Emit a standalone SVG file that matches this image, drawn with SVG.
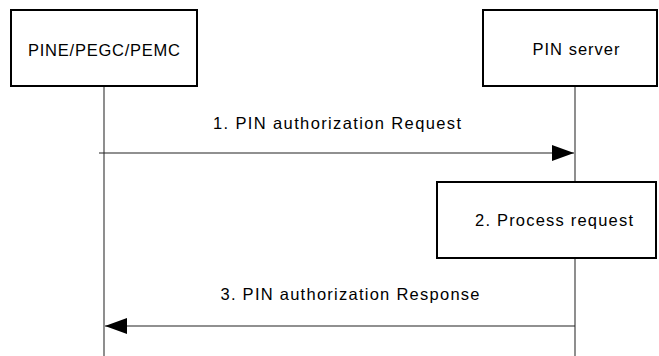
<svg xmlns="http://www.w3.org/2000/svg" width="659" height="356" viewBox="0 0 659 356">
<defs>
<style>
.box{fill:#fff;stroke:#000;stroke-width:2}
.life{stroke:#444;stroke-width:1.2;fill:none}
.msg{stroke:#222;stroke-width:1.2;fill:none}
.t{font-family:"Liberation Sans",Arial,sans-serif;font-size:16.5px;fill:#000;text-anchor:middle}
</style>
<marker id="ah" viewBox="0 0 22 16" refX="22" refY="8" markerWidth="22" markerHeight="16" markerUnits="userSpaceOnUse" orient="auto">
<path d="M0,0 L22,8 L0,16 Z" fill="#000"/>
</marker>
</defs>
<g id="lifelines">
<line class="life" x1="104" y1="87" x2="104" y2="356"/>
<line class="life" x1="575" y1="87" x2="575" y2="182"/>
<line class="life" x1="575" y1="258" x2="575" y2="356"/>
</g>
<g id="node-pine">
<rect class="box" x="11" y="10" width="186" height="76"/>
<text class="t" x="104" y="56" textLength="152" lengthAdjust="spacing">PINE/PEGC/PEMC</text>
</g>
<g id="node-server">
<rect class="box" x="483" y="10" width="174" height="76"/>
<text class="t" x="576" y="55" textLength="87" lengthAdjust="spacing">PIN server</text>
</g>
<g id="node-process">
<rect class="box" x="437" y="182" width="219" height="76"/>
<text class="t" x="554" y="226" textLength="158" lengthAdjust="spacing">2. Process request</text>
</g>
<g id="connectors">
<line class="msg" x1="99" y1="153" x2="574" y2="153" marker-end="url(#ah)"/>
<text class="t" x="337" y="129" textLength="248" lengthAdjust="spacing">1. PIN authorization Request</text>
<line class="msg" x1="575" y1="326" x2="105" y2="326" marker-end="url(#ah)"/>
<text class="t" x="350" y="300" textLength="259" lengthAdjust="spacing">3. PIN authorization Response</text>
</g>
</svg>
